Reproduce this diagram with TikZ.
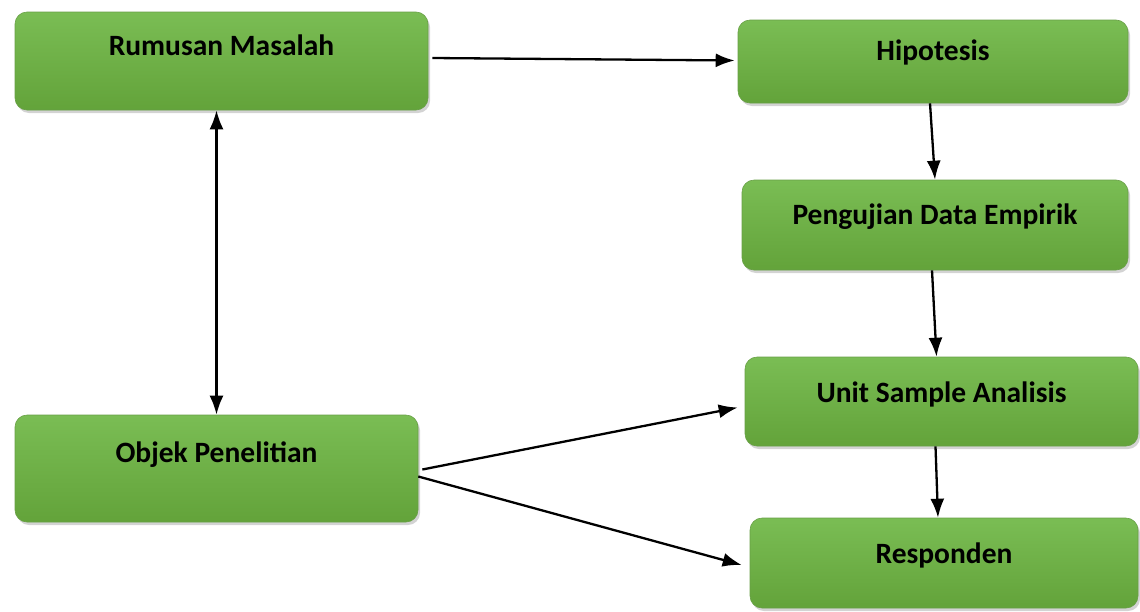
\documentclass[tikz,border=0pt]{standalone}
\usepackage{fontspec}
\setmainfont{Carlito}
\usepackage{tikz}
\usetikzlibrary{arrows.meta,shadows}
\definecolor{boxtop}{RGB}{122,189,84}
\definecolor{boxbot}{RGB}{99,163,58}
\definecolor{boxedge}{RGB}{104,160,70}

\begin{document}
\begin{tikzpicture}[x=1pt,y=-1pt,
  box/.style={rectangle,rounded corners=12pt,draw=boxedge,line width=0.6pt,
    top color=boxtop,bottom color=boxbot,
    drop shadow={shadow xshift=2pt,shadow yshift=-3pt,opacity=0.35},
    font=\fontsize{29.5}{32}\selectfont\bfseries,inner sep=0pt,text height=21pt},
  arr/.style={line width=2.3pt,-{Latex[length=19pt,width=14pt]}},
  dblarr/.style={line width=2.3pt,{Latex[length=19pt,width=14pt]}-{Latex[length=19pt,width=14pt]}}]
\useasboundingbox (0,0) rectangle (1140,611);

\node[box,minimum width=413,minimum height=98,text depth=33pt] (rm) at (221.5,61) {Rumusan Masalah};
\node[box,minimum width=403,minimum height=107,text depth=34pt] (obj) at (216.5,468.5) {Objek Penelitian};
\node[box,minimum width=390,minimum height=83,text depth=24pt] (hip) at (933,61.5) {Hipotesis};
\node[box,minimum width=386,minimum height=90,text depth=23pt] (pen) at (935,225) {Pengujian Data Empirik};
\node[box,minimum width=393,minimum height=89,text depth=20pt] (unit) at (941.5,401.5) {Unit Sample Analisis};
\node[box,minimum width=388,minimum height=90,text depth=21pt] (resp) at (944,563) {Responden};

\draw[arr] ([xshift=4pt,yshift=3pt]rm.east) -- ([xshift=-3pt,yshift=1pt]hip.west);
\draw[dblarr] (obj.north |- rm.south) -- (obj.north);
\draw[arr] ([xshift=-3pt]hip.south) -- (pen.north);
\draw[arr] ([xshift=-3pt]pen.south) -- ([xshift=-5pt]unit.north);
\draw[arr] ([xshift=-6pt]unit.south) -- ([xshift=-6pt]resp.north);
\draw[arr] ([xshift=4pt,yshift=-1pt]obj.east) -- ([xshift=-7pt,yshift=-6pt]unit.west);
\draw[arr] ([yshift=-8pt]obj.east) -- ([xshift=-8pt,yshift=-2pt]resp.west);
\end{tikzpicture}
\end{document}
